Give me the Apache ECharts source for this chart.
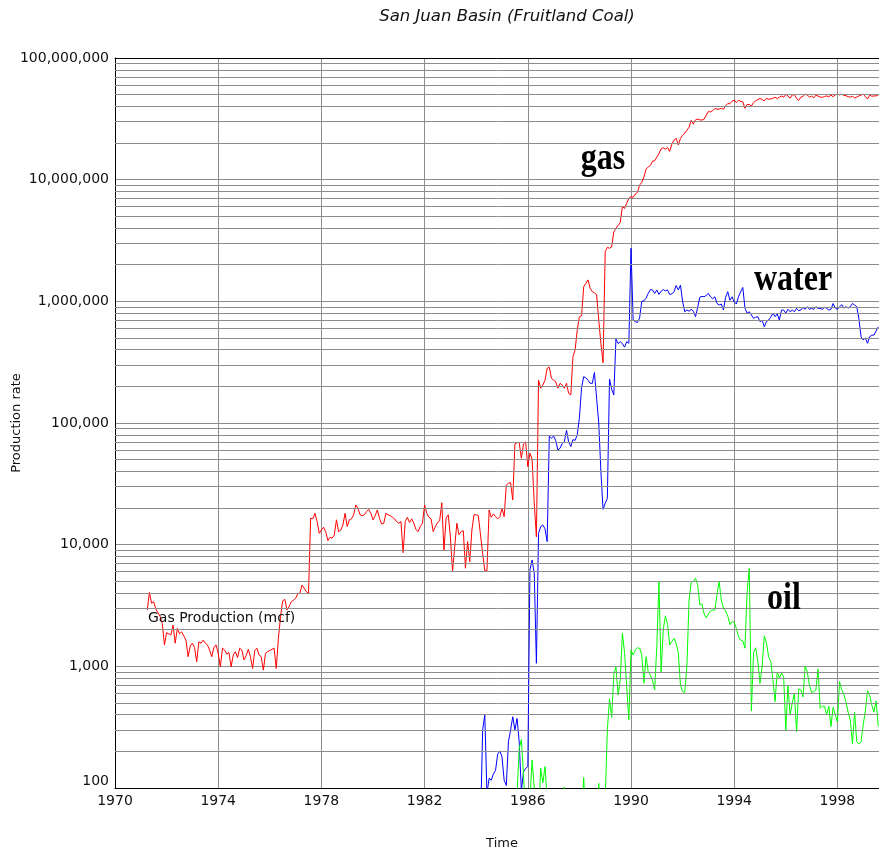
<!DOCTYPE html>
<html>
<head>
<meta charset="utf-8">
<script src="https://cdn.jsdelivr.net/npm/echarts@6/dist/echarts.min.js"></script>
<style>
html,body{margin:0;padding:0;background:#fff;}
#chart{width:879px;height:850px;}
</style>
</head>
<body>
<div id="chart"></div>
<script>
// ---- Data (monthly production rates) ----
const chartTitle = 'San Juan Basin (Fruitland Coal)';
const xTickYears = [1970, 1974, 1978, 1982, 1986, 1990, 1994, 1998];
const yTickValues = [100, 1000, 10000, 100000, 1000000, 10000000, 100000000];

const gasStart = 1971.25; // first month of gas series
const gasMonthly = [
  2900, 4060, 3300, 3400, 2950, 2750, 2560, 2250, 1500, 1890,
  1850, 1810, 2180, 1550, 2050, 1850, 1920, 1780, 1640, 1200,
  1470, 1550, 1430, 1090, 1590, 1550, 1640, 1550, 1500, 1360,
  1200, 1430, 1500, 1280, 990, 1410, 1360, 1260, 1300, 990,
  1240, 1320, 1180, 1410, 1360, 1130, 1220, 1380, 1200, 960,
  1350, 1410, 1240, 1200, 930, 1280, 1320, 1350, 1380, 1410,
  960, 1700, 2560, 3450, 3550, 2900, 3100, 3400, 3500, 3620,
  3950, 4000, 4660, 4380, 4100, 3980,
  16500, 16300, 18100, 15500, 12400, 13200, 13900, 12800, 10800, 11500,
  11300, 12000, 16000, 12800, 13200, 14500, 18100, 14100, 16000, 16300,
  17600, 21200, 19900, 17600, 17300, 17600, 18700, 19500, 18100, 16000,
  17300, 19300, 16500, 14800, 15000, 18100, 17600, 17300, 16800, 16300,
  15500, 15000, 15500, 8600, 15500, 16800, 15200, 16300, 15000, 13300,
  12800, 14100, 15000, 21200, 18100, 16800, 16300, 12800, 14100, 15200,
  15700, 22100, 9000, 16500, 17600, 11600, 6000, 9600, 15000, 12100,
  12800, 13000, 6400, 10600, 7250, 13200, 17600, 17600, 17300, 12000,
  8500, 6100, 6100, 19300, 16800, 17900, 17000, 16300,
  17000, 19900, 17000, 30900, 32000, 32300, 23300, 67300, 69000, 69000,
  51300, 67300, 70000, 43800, 56400, 50300, 21900, 11600,
  225000, 193000, 205000, 225000, 282000, 287000, 233000, 225000, 218000, 193000,
  212000, 205000, 193000, 212000, 175000, 170000, 351000, 398000, 581000, 748000,
  760000, 1320000, 1400000, 1500000, 1280000, 1200000, 1180000, 1130000, 700000, 450000,
  313000, 2560000, 2780000, 2730000, 2800000, 3730000, 3980000, 4200000, 4450000, 6000000,
  5800000, 6400000, 7030000, 7250000, 7150000, 7620000, 7850000, 9040000,
  9.5e6, 10.5e6, 12.2e6, 12.7e6, 13.1e6, 14.2e6, 14.3e6, 15.3e6, 16.4e6, 17.9e6,
  18.3e6, 17.8e6, 18.4e6, 17.1e6, 19.6e6, 21.1e6, 21.9e6, 19.3e6, 21.8e6, 23.2e6,
  24.1e6, 25.5e6, 27.0e6, 30.8e6, 28.6e6, 31.0e6, 31.5e6, 31.0e6, 30.9e6, 31.4e6,
  33.9e6, 36.4e6, 36.0e6, 37.0e6, 38.5e6, 37.9e6, 38.0e6, 38.6e6, 38.0e6, 40.4e6,
  42.2e6, 42.0e6, 44.1e6, 45.0e6, 43.0e6, 45.0e6, 44.0e6, 43.6e6, 38.6e6, 41.5e6,
  41.5e6, 40.3e6, 43.0e6, 44.5e6, 45.6e6, 46.5e6, 45.5e6, 44.5e6, 46.7e6, 45.8e6,
  46.0e6, 46.7e6, 47.6e6, 46.4e6, 47.6e6, 48.8e6, 47.6e6, 50.3e6, 48.8e6, 46.7e6,
  49.7e6, 50.0e6, 46.5e6, 44.8e6, 47.6e6, 48.5e6, 50.4e6, 49.5e6, 47.8e6, 48.6e6,
  47.0e6, 49.5e6, 48.6e6, 47.8e6, 47.5e6, 48.2e6, 48.8e6, 48.0e6, 49.5e6, 48.1e6,
  49.7e6, 50.5e6, 49.7e6, 50.4e6, 49.3e6, 49.0e6, 48.1e6, 47.7e6, 48.5e6, 47.0e6,
  47.8e6, 48.8e6, 49.5e6, 50.6e6, 48.0e6, 46.0e6, 49.5e6, 48.5e6, 48.8e6, 48.8e6,
  49.7e6
];

const waterStart = 1984 + 2 / 12; // first month of water series
const waterMonthly = [
  50,
  300, 400, 90, 120, 116, 130, 140, 190, 202, 180,
  116, 105, 240, 300, 385, 300, 373, 240, 95, 136,
  145, 150, 6200, 7480, 5810, 1060, 12400, 14100, 14500, 13500,
  10600, 78000, 75000, 78000, 71500, 60000, 62000, 68000, 70000, 87000,
  70000, 64000, 73000, 72000, 80000, 110000, 195000, 240000, 235000, 225000,
  212000, 212000, 260000, 160000, 100000, 40000, 19500, 21900, 24000, 230000,
  190000, 170000, 490000, 450000, 465000, 450000, 420000, 466000, 452000, 2730000,
  700000, 680000, 670000, 730000, 1000000, 1010000, 1060000, 1160000, 1250000, 1240000,
  1160000, 1240000, 1140000, 1210000, 1250000, 1220000, 1240000, 1140000, 1150000, 1200000,
  1350000, 1240000, 1360000, 1000000, 821000, 848000, 830000, 860000, 830000, 748000,
  890000, 1080000, 1100000, 1090000, 1120000, 1160000, 1090000, 1050000, 1090000, 963000,
  932000, 950000, 848000, 1080000, 1200000, 1020000, 1090000, 990000, 950000, 1090000,
  1200000, 1300000, 880000, 797000, 821000, 772000, 725000, 740000, 748000, 680000,
  700000, 618000, 680000, 702000, 740000, 800000, 748000, 790000, 702000, 848000,
  848000, 800000, 860000, 821000, 848000, 821000, 876000, 837000, 848000, 892000,
  860000, 903000, 860000, 876000, 860000, 903000, 876000, 876000, 860000, 892000,
  876000, 848000, 860000, 960000, 880000, 860000, 900000, 940000, 880000, 903000,
  880000, 903000, 960000, 932000, 903000, 720000, 512000, 481000, 500000, 452000,
  512000, 528000, 528000, 570000, 618000
];

const oilStart = 1985.25; // first month of oil series
const oilMonthly = [
  50, 50, 50, 60, 90, 210, 250, 130, 60, 50,
  80, 170, 100, 60, 60, 145, 110, 150, 80, 60,
  98, 60, 50, 50, 50, 60, 102, 60, 50, 50,
  50, 50, 50, 50, 50, 122, 50, 50, 50, 50,
  50, 50, 109, 50, 50, 80, 300, 540, 380, 850,
  993, 580, 772, 1870, 1300, 681, 362, 1360, 1240, 1360,
  1420, 1410, 1240, 725, 1200, 903, 850, 760, 640, 1450,
  4970, 900, 2000, 2600, 2200, 1500, 1600, 1700, 1550, 1290,
  700, 620, 610, 1000, 3500, 4900, 5000, 5300, 4700, 3200,
  3250, 2700, 2500, 2700, 2850, 2900, 2900, 3900, 5000, 3500,
  3000, 2850, 2600, 2200, 2330, 2300, 2050, 1750, 1640, 1620,
  1410, 4100, 6400, 430, 1300, 1420, 1100, 725, 1000, 1780,
  1560, 1200, 1100, 780, 512, 900, 800, 880, 822, 300,
  700, 398, 500, 600, 290, 650, 640, 560, 1000, 900,
  700, 610, 620, 640, 950, 452, 470, 470, 400, 470,
  320, 460, 400, 350, 750, 640, 590, 510, 420, 360,
  230, 420, 240, 230, 240, 330, 430, 630, 580, 480,
  420, 520, 320
];

// ---- Build ----
function toPairs(start, vals) {
  return vals.map((v, i) => [start + i / 12, v]);
}
// log minor grid values (2..9 x each decade)
const minorGrid = [];
for (let d = 2; d < 8; d++) {
  for (let k = 2; k <= 9; k++) minorGrid.push(k * Math.pow(10, d));
}

const FONT = 'DejaVu Sans';
const GRID = '#8c8c8c';

const chart = echarts.init(document.getElementById('chart'), null, {renderer: 'canvas'});
chart.setOption({
  animation: false,
  backgroundColor: '#ffffff',
  title: {
    text: chartTitle,
    left: 502,
    top: 3,
    textAlign: 'center',
    textStyle: {fontFamily: FONT, fontStyle: 'italic', fontWeight: 'normal', fontSize: 16.5, color: '#111'}
  },
  grid: {left: 115, right: -10, top: 58, bottom: 62, containLabel: false, outerBoundsMode: 'none'},
  xAxis: [{
    type: 'value', min: xTickYears[0], max: 2000, interval: 4, position: 'bottom',
    axisLine: {show: true, onZero: false, lineStyle: {color: '#000', width: 1}},
    axisTick: {show: false},
    splitLine: {show: true, lineStyle: {color: GRID, width: 1}},
    axisLabel: {
      margin: 6, fontFamily: FONT, fontSize: 14, color: '#111',
      formatter: v => (xTickYears.indexOf(v) >= 0 ? String(v) : '')
    },
    name: 'Time', nameLocation: 'middle', nameGap: 49,
    nameTextStyle: {fontFamily: FONT, fontSize: 13, color: '#111'}
  }, {
    type: 'value', min: xTickYears[0], max: 2000, position: 'top',
    axisLine: {show: true, onZero: false, lineStyle: {color: '#000', width: 1}},
    axisTick: {show: false}, axisLabel: {show: false}, splitLine: {show: false}
  }],
  yAxis: {
    type: 'log', logBase: 10, min: yTickValues[0], max: yTickValues[yTickValues.length - 1],
    axisLine: {show: true, onZero: false, lineStyle: {color: '#000', width: 1}},
    axisTick: {show: false},
    splitLine: {show: true, lineStyle: {color: GRID, width: 1}},
    axisLabel: {
      margin: 6, fontFamily: FONT, fontSize: 14, color: '#111',
      verticalAlignMinLabel: 'bottom',
      formatter: v => Number(v).toLocaleString('en-US')
    },
    name: 'Production rate', nameLocation: 'middle', nameGap: 92, nameRotate: 90,
    nameMoveOverlap: false,
    nameTextStyle: {fontFamily: FONT, fontSize: 13, color: '#111'}
  },
  series: [
    {
      type: 'line', name: 'grid', data: [], z: 1, silent: true,
      markLine: {
        silent: true, symbol: ['none', 'none'], label: {show: false},
        lineStyle: {color: GRID, width: 1, type: 'solid'},
        emphasis: {disabled: true},
        data: minorGrid.map(v => ({yAxis: v}))
      }
    },
    {
      type: 'line', name: 'gas', data: toPairs(gasStart, gasMonthly), z: 3,
      showSymbol: false, symbol: 'none', clip: true,
      lineStyle: {color: '#ff0000', width: 1}, itemStyle: {color: '#ff0000'}
    },
    {
      type: 'line', name: 'water', data: toPairs(waterStart, waterMonthly), z: 3,
      showSymbol: false, symbol: 'none', clip: true,
      lineStyle: {color: '#0000ff', width: 1}, itemStyle: {color: '#0000ff'}
    },
    {
      type: 'line', name: 'oil', data: toPairs(oilStart, oilMonthly), z: 3,
      showSymbol: false, symbol: 'none', clip: true,
      lineStyle: {color: '#00ff00', width: 1}, itemStyle: {color: '#00ff00'}
    }
  ],
  graphic: [
    {type: 'text', x: 603, y: 159, scaleY: 1.2, z: 10,
     style: {text: 'gas', x: 0, y: 0, align: 'center', verticalAlign: 'middle', font: 'bold 32px "Liberation Serif"', fill: '#000'}},
    {type: 'text', x: 793, y: 280, scaleY: 1.2, z: 10,
     style: {text: 'water', x: 0, y: 0, align: 'center', verticalAlign: 'middle', font: 'bold 32px "Liberation Serif"', fill: '#000'}},
    {type: 'text', x: 784, y: 599, scaleY: 1.2, z: 10,
     style: {text: 'oil', x: 0, y: 0, align: 'center', verticalAlign: 'middle', font: 'bold 32px "Liberation Serif"', fill: '#000'}},
    {type: 'text', x: 148, y: 618, z: 10,
     style: {text: 'Gas Production (mcf)', x: 0, y: 0, align: 'left', verticalAlign: 'middle', font: '14px "DejaVu Sans"', fill: '#111'}}
  ]
});
</script>
</body>
</html>
